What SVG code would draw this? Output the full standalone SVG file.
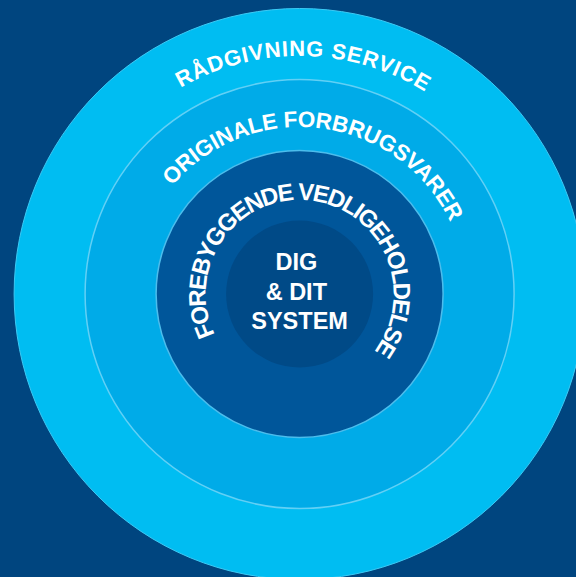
<svg xmlns="http://www.w3.org/2000/svg" xmlns:xlink="http://www.w3.org/1999/xlink" width="576" height="577" viewBox="0 0 576 577">
  <style>
    .lbl { font-family: "Liberation Sans", Arial, Helvetica, sans-serif; font-weight: bold; fill: #ffffff; }
  </style>
  <defs>
    <path id="arcOuter" d="M 299.6,532 A 238 238 0 0 1 299.6,56 A 238 238 0 0 1 299.6,532"/>
    <path id="arcMid" d="M 299.6,461 A 167 167 0 0 1 299.6,127 A 167 167 0 0 1 299.6,461"/>
    <path id="arcInner" d="M 299.6,388 A 94 94 0 0 1 299.6,200 A 94 94 0 0 1 299.6,388"/>
  </defs>
  <rect x="0" y="0" width="576" height="577" fill="#00457f"/>
  <g id="ring-service">
    <circle cx="299.6" cy="294" r="285.5" fill="#00bdf2" stroke="#3cc9f4" stroke-width="1"/>
    <text class="lbl" font-size="22" letter-spacing="0.8" transform="rotate(1 299.6 294)"><textPath xlink:href="#arcOuter" href="#arcOuter" startOffset="50%" text-anchor="middle">RÅDGIVNING SERVICE</textPath></text>
  </g>
  <g id="ring-forbrugsvarer">
    <circle cx="299.6" cy="294" r="214.5" fill="#00abe8" stroke="#62d0f5" stroke-width="1.5"/>
    <text class="lbl" font-size="22.5" letter-spacing="-0.2" transform="rotate(7.35 299.6 294)"><textPath xlink:href="#arcMid" href="#arcMid" startOffset="50%" text-anchor="middle">ORIGINALE FORBRUGSVARER</textPath></text>
  </g>
  <g id="ring-vedligeholdelse">
    <circle cx="299.6" cy="294" r="143.5" fill="#00569a" stroke="#4cbdec" stroke-width="1.5"/>
    <text class="lbl" font-size="24" letter-spacing="-1.8" transform="rotate(5.45 299.6 294)"><textPath xlink:href="#arcInner" href="#arcInner" startOffset="50%" text-anchor="middle">FOREBYGGENDE VEDLIGEHOLDELSE</textPath></text>
  </g>
  <g id="core">
    <circle cx="299.6" cy="294" r="73.5" fill="#004a87"/>
    <text class="lbl" font-size="23.5" text-anchor="middle">
      <tspan x="299.6" y="270">DIG</tspan>
      <tspan x="299.6" y="299.5">&amp; DIT</tspan>
      <tspan x="299.6" y="328.5">SYSTEM</tspan>
    </text>
  </g>
</svg>
